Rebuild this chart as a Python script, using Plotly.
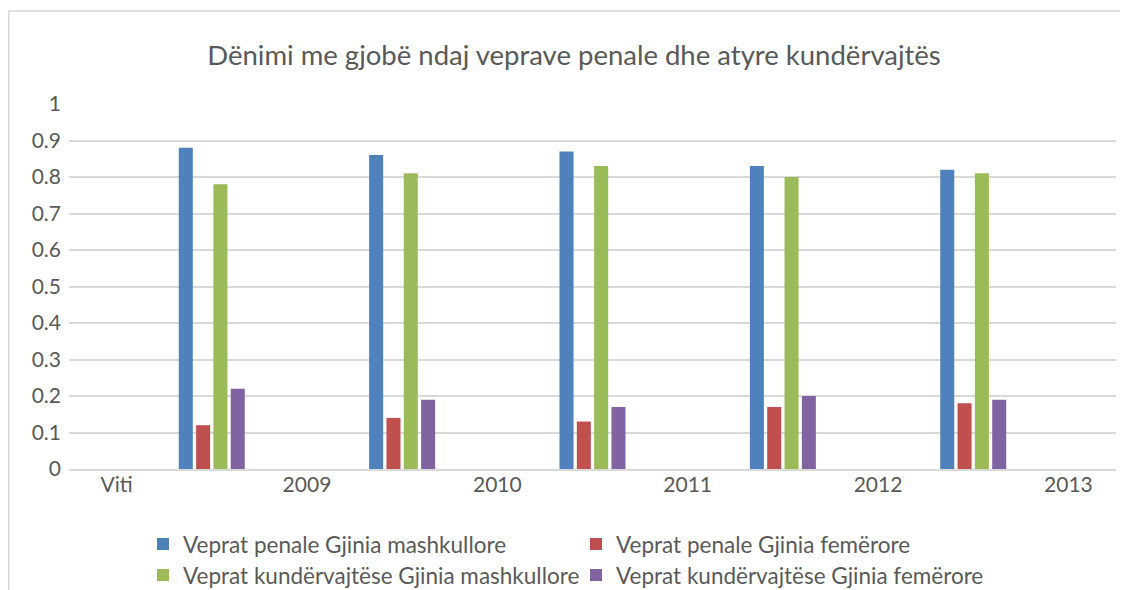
import plotly.graph_objects as go

# ---- data ----
group_positions = [0, 1, 2, 3, 4]
tick_positions = [-0.5, 0.5, 1.5, 2.5, 3.5, 4.5]
tick_labels = ["Viti", "2009", "2010", "2011", "2012", "2013"]

series_names = [
    "Veprat penale Gjinia mashkullore",
    "Veprat penale Gjinia femërore",
    "Veprat kundërvajtëse Gjinia mashkullore",
    "Veprat kundërvajtëse Gjinia femërore",
]
penale_m = [0.88, 0.86, 0.87, 0.83, 0.82]
penale_f = [0.12, 0.14, 0.13, 0.17, 0.18]
kundervajtese_m = [0.78, 0.81, 0.83, 0.80, 0.81]
kundervajtese_f = [0.22, 0.19, 0.17, 0.20, 0.19]
series_values = [penale_m, penale_f, kundervajtese_m, kundervajtese_f]
colors = ["#4F81BD", "#C0504D", "#9BBB59", "#8064A2"]

title_text = "Dënimi me gjobë ndaj veprave penale dhe atyre kundërvajtës"

# ---- layout geometry (page has an 8px body margin) ----
OFF = 8
W, H = 1128 - OFF, 590 - OFF
# plot area in page pixels
P_L, P_R, P_T, P_B = 69, 1116, 104, 468.7
ml = P_L - OFF
mr = W - (P_R - OFF)
mt = P_T - OFF
mb = H - (P_B - OFF)
pw = P_R - P_L
ph = P_B - P_T

def px_x(p):
    return (p - P_L) / pw

def px_y(p):
    return (P_B - p) / ph

FONT = "Lato, Carlito, 'Open Sans', sans-serif"
TXT = "#595959"

fig = go.Figure()
legend_ids = ["legend", "legend2", "legend3", "legend4"]
for name, vals, col, lid in zip(series_names, series_values, colors, legend_ids):
    fig.add_trace(go.Bar(
        x=group_positions, y=vals, name=name,
        marker=dict(color=col, line=dict(width=0)),
        legend=lid,
    ))

# legend positions (legend left px, row center px) in page pixels
leg_pos = [(143, 544), (576, 544), (143, 575), (576, 575)]
leg_common = dict(font=dict(family=FONT, size=22.5, color=TXT),
                  bgcolor="rgba(0,0,0,0)", xanchor="left", yanchor="middle",
                  orientation="h", itemclick=False, itemdoubleclick=False)
legend_layout = {}
for lid, (lx, ly) in zip(legend_ids, leg_pos):
    legend_layout[lid] = dict(x=px_x(lx), y=px_y(ly), **leg_common)

fig.update_layout(
    width=W, height=H,
    margin=dict(l=ml, r=mr, t=mt, b=mb, pad=0, autoexpand=False),
    paper_bgcolor="white", plot_bgcolor="white",
    barmode="group", bargap=0.636, bargroupgap=0.19,
    font=dict(family=FONT, color=TXT),
    title=dict(text=title_text, x=(574 - OFF) / W, xanchor="center",
               y=1 - (55 - OFF) / H, yanchor="middle",
               font=dict(family=FONT, size=27.5, color=TXT)),
    xaxis=dict(range=[-0.75, 4.75], tickmode="array", tickvals=tick_positions,
               ticktext=tick_labels, showgrid=False, zeroline=False,
               showline=True, linecolor="#D9D9D9", linewidth=2, ticks="",
               ticklabelstandoff=-4, automargin=False,
               tickfont=dict(family=FONT, size=21, color=TXT)),
    yaxis=dict(range=[0, 1.0], tickmode="array",
               tickvals=[0, 0.1, 0.2, 0.3, 0.4, 0.5, 0.6, 0.7, 0.8, 0.9, 1.0],
               ticktext=["0", "0.1", "0.2", "0.3", "0.4", "0.5", "0.6", "0.7", "0.8", "0.9", "1"],
               showgrid=True, gridcolor="#D9D9D9", gridwidth=1.5, zeroline=False,
               showline=False, ticks="", ticklabelstandoff=7, automargin=False,
               tickfont=dict(family=FONT, size=21, color=TXT)),
    showlegend=True,
    shapes=[dict(type="rect", xref="paper", yref="paper",
                 x0=px_x(8.75), x1=px_x(1160), y0=px_y(640), y1=px_y(11),
                 line=dict(color="#D9D9D9", width=1.5), fillcolor="rgba(0,0,0,0)",
                 layer="below")],
    **legend_layout,
)

fig.write_html("out.html")
